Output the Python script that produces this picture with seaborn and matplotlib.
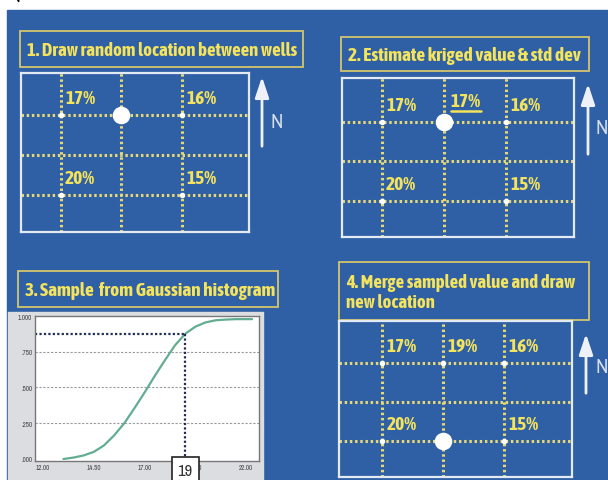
import matplotlib
matplotlib.use("Agg")
import matplotlib.pyplot as plt
from matplotlib import font_manager
from matplotlib.patches import Rectangle, Arc
import pandas as pd
import seaborn as sns

# ---------------------------------------------------------------- data
# conditioning wells: grid column, grid row (row 1 = north), porosity %
well_cols = [1, 3, 1, 3]
well_rows = [1, 1, 3, 3]
well_porosity = [17, 16, 20, 15]

# simulation grid lines (column / row indices)
grid_cols = [1, 2, 3]
grid_rows = [1, 2, 3]

# step 1: randomly visited node
visit1_col, visit1_row = 2, 1
# step 2: kriged estimate at that node
kriged_value = 17

# step 3: local conditional distribution (cumulative probability)
cdf_x = [13.0, 13.5, 14.0, 14.5, 15.0, 15.5, 16.0, 16.5, 17.0, 17.5,
         18.0, 18.5, 19.0, 19.5, 20.0, 20.5, 21.0, 21.5, 22.0, 22.3]
cdf_p = [0.000, 0.010, 0.025, 0.050, 0.095, 0.165, 0.250, 0.355, 0.465, 0.580,
         0.690, 0.795, 0.875, 0.925, 0.955, 0.970, 0.975, 0.978, 0.978, 0.978]
cdf_xticks = [12.0, 14.5, 17.0, 19.5, 22.0]
cdf_xticklabels = ["12.00", "14.50", "17.00", "19.50", "22.00"]
cdf_yticks = [0.0, 0.25, 0.5, 0.75, 1.0]
cdf_yticklabels = [".000", ".250", ".500", ".750", "1.000"]
sampled_value = 19
sampled_p = 0.875

# step 4: next randomly visited node
visit4_col, visit4_row = 2, 3

titles = ["1. Draw random location between wells",
          "2. Estimate kriged value & std dev",
          "3. Sample  from Gaussian histogram",
          "4. Merge sampled value and draw\nnew location"]

# ---------------------------------------------------------------- style
W, H = 608, 481
BLUE = "#2f5fa4"
YELLOW = "#f4e35c"
DOT = "#e6d874"
FRAME = "#e4eaf4"
TITLE_EDGE = "#d2c66c"

sns.set_theme(style="white")

# pick narrow sans faces for the slide lettering
ttf = font_manager.fontManager.ttflist


def wnum(w):
    return w if isinstance(w, int) else font_manager.weight_dict.get(w, 400)


def is_narrow(f):
    return "Narrow" in f.name or "Condensed" in f.name


narrow_any = sorted({f.name for f in ttf if is_narrow(f)},
                    key=lambda n: (0 if "Liberation" in n else 1, n))
narrow_bold = sorted({f.name for f in ttf if is_narrow(f) and wnum(f.weight) >= 600},
                     key=lambda n: (0 if "Liberation" in n else 1, n))
dejavu_cond_bold = any(f.name == "DejaVu Sans" and f.stretch == "condensed"
                       and wnum(f.weight) >= 600 for f in ttf)

if narrow_bold:
    BOLD = dict(family=[narrow_bold[0], "DejaVu Sans"], fontweight="bold")
elif dejavu_cond_bold:
    BOLD = dict(family=["DejaVu Sans"], fontweight="bold", fontstretch="condensed")
else:
    BOLD = dict(family=["Liberation Sans", "DejaVu Sans"], fontweight="bold")
REG_FAMILY = [narrow_any[0], "DejaVu Sans"] if narrow_any else ["Liberation Sans", "DejaVu Sans"]
plt.rcParams["font.family"] = REG_FAMILY

fig = plt.figure(figsize=(W / 100, H / 100), dpi=100)
fig.patch.set_facecolor("white")


def px_rect(x0, y0, x1, y1):
    return [x0 / W, 1 - y1 / H, (x1 - x0) / W, (y1 - y0) / H]


def fit_width(t, target):
    """Scale a text's font size so that its rendered width is `target` px."""
    fig.canvas.draw()
    w = t.get_window_extent().width
    t.set_fontsize(t.get_fontsize() * target / w)


bg = fig.add_axes([0, 0, 1, 1])
bg.set_xlim(0, W)
bg.set_ylim(H, 0)
bg.axis("off")
bg.add_patch(Rectangle((7, 11), W - 7, H - 11, color=BLUE, zorder=0))
bg.add_patch(Arc((29, -3), 24, 20, theta1=150, theta2=350, color="black", lw=1.4))

# title boxes: (x0, y0, x1, y1) and text width in px
title_boxes = [(20, 32, 303, 68), (341, 38, 589, 72), (18, 272, 278, 308), (339, 263, 589, 321)]
title_widths = [268, 232, 250, 228]
for (x0, y0, x1, y1), t, tw in zip(title_boxes, titles, title_widths):
    bg.add_patch(Rectangle((x0, y0), x1 - x0, y1 - y0, fill=False,
                           ec=TITLE_EDGE, lw=1.3, zorder=2))
    txt = bg.text(x0 + 7, (y0 + y1) / 2 + 1, t, color=YELLOW, fontsize=13,
                  va="center", ha="left", linespacing=1.15, zorder=3, **BOLD)
    fit_width(txt, tw)

# north arrows
for x, ytip, ybase, nx, ny in [(262, 75, 150, 277, 122),
                               (588, 82, 158, 602, 128),
                               (586, 332, 397, 602, 368)]:
    bg.annotate("", xy=(x, ytip), xytext=(x, ybase),
                arrowprops=dict(arrowstyle="-|>,head_length=0.9,head_width=0.3",
                                color="#eef2f8", lw=2, mutation_scale=14))
    bg.text(nx, ny, "N", color="#d6deec", fontsize=15, ha="center", va="center")

LABEL_FS = None


def label_text(ax, text, col, row, dx=3, dy=12):
    global LABEL_FS
    t = ax.annotate(text, (col, row), xytext=(dx, dy), textcoords="offset points",
                    color=YELLOW, fontsize=13, ha="left", va="center", zorder=6,
                    **BOLD)
    if LABEL_FS is None:
        fit_width(t, 30)
        LABEL_FS = t.get_fontsize()
    else:
        t.set_fontsize(LABEL_FS)
    return t


def grid_panel(rect, xlim, ylim, wells, node=None):
    ax = fig.add_axes(px_rect(*rect))
    ax.set_facecolor("none")
    for s in ax.spines.values():
        s.set_color(FRAME)
        s.set_linewidth(1.6)
    for c in grid_cols:
        ax.axvline(c, color=DOT, ls=(0, (0.8, 0.9)), lw=2.2, zorder=1)
    for r in grid_rows:
        ax.axhline(r, color=DOT, ls=(0, (0.8, 0.9)), lw=2.2, zorder=1)
    sns.scatterplot(data=wells, x="col", y="row", ax=ax, color="white",
                    s=16, linewidth=0, zorder=3, legend=False)
    for _, w in wells.iterrows():
        label_text(ax, f"{w['value']:.0f}%", w["col"], w["row"])
    if node is not None:
        nd = pd.DataFrame({"col": [node[0]], "row": [node[1]]})
        sns.scatterplot(data=nd, x="col", y="row", ax=ax, color="white",
                        s=160, linewidth=0, zorder=5, legend=False)
    ax.set_xlim(*xlim)
    ax.set_ylim(*ylim)
    ax.set_xticks([])
    ax.set_yticks([])
    ax.set_xlabel("")
    ax.set_ylabel("")
    return ax


wells1 = pd.DataFrame({"col": well_cols, "row": well_rows, "value": well_porosity})
wells4 = pd.concat([wells1, pd.DataFrame({"col": [visit1_col], "row": [visit1_row],
                                          "value": [sampled_value]})], ignore_index=True)

grid_panel((21, 74, 249, 233), (0.34, 4.11), (3.925, -0.05), wells1,
           node=(visit1_col, visit1_row))

ax2 = grid_panel((342, 79, 574, 238), (0.355, 4.1), (3.92, -0.10), wells1,
                 node=(visit1_col, visit1_row))
kr = label_text(ax2, f"{kriged_value}%", visit1_col, visit1_row, dx=5, dy=15)
fig.canvas.draw()
bb = kr.get_window_extent()
fig.add_artist(plt.Line2D([bb.x0 / W, bb.x1 / W], [(bb.y0 - 1.5) / H] * 2,
                          color=YELLOW, lw=1.8))

grid_panel((339, 322, 572, 478), (0.295, 4.11), (3.92, -0.077), wells4,
           node=(visit4_col, visit4_row))

# step 3: cumulative distribution chart
bg.add_patch(Rectangle((8, 313), 255, H - 313, color="#dcdde0", zorder=1))
cx = fig.add_axes(px_rect(35, 317, 259, 462))
cx.set_facecolor("white")
cdf = pd.DataFrame({"porosity": cdf_x, "p": cdf_p})
sns.lineplot(data=cdf, x="porosity", y="p", ax=cx, color="#62ad90", lw=1.6)
cx.set_xlim(11.6, 22.64)
cx.set_ylim(-0.014, 1.0)
cx.set_xticks(cdf_xticks)
cx.set_xticklabels(cdf_xticklabels)
cx.set_yticks(cdf_yticks)
cx.set_yticklabels(cdf_yticklabels)
cx.tick_params(length=0, labelsize=5, colors="#444444", pad=2)
cx.set_xlabel("")
cx.set_ylabel("")
for y in cdf_yticks[1:-1]:
    cx.axhline(y, color="#9a9a9a", ls=(0, (2, 1.5)), lw=0.8, zorder=0)
for s in cx.spines.values():
    s.set_color("#777777")
    s.set_linewidth(1)
cx.plot([cx.get_xlim()[0], sampled_value], [sampled_p, sampled_p],
        color="#1d2d55", ls=(0, (1, 1)), lw=1.6)
cx.plot([sampled_value, sampled_value], [sampled_p, -0.014],
        color="#1d2d55", ls=(0, (1, 1)), lw=1.6)
cx.annotate(f"{sampled_value}", (sampled_value, 0), xycoords=("data", "axes fraction"),
            xytext=(0, -6.5), textcoords="offset points", ha="center", va="center",
            fontsize=12, color="#333333",
            bbox=dict(boxstyle="square,pad=0.35", fc="white", ec="#222222", lw=1.2),
            annotation_clip=False, zorder=10)

fig.savefig("out.png", dpi=100)
